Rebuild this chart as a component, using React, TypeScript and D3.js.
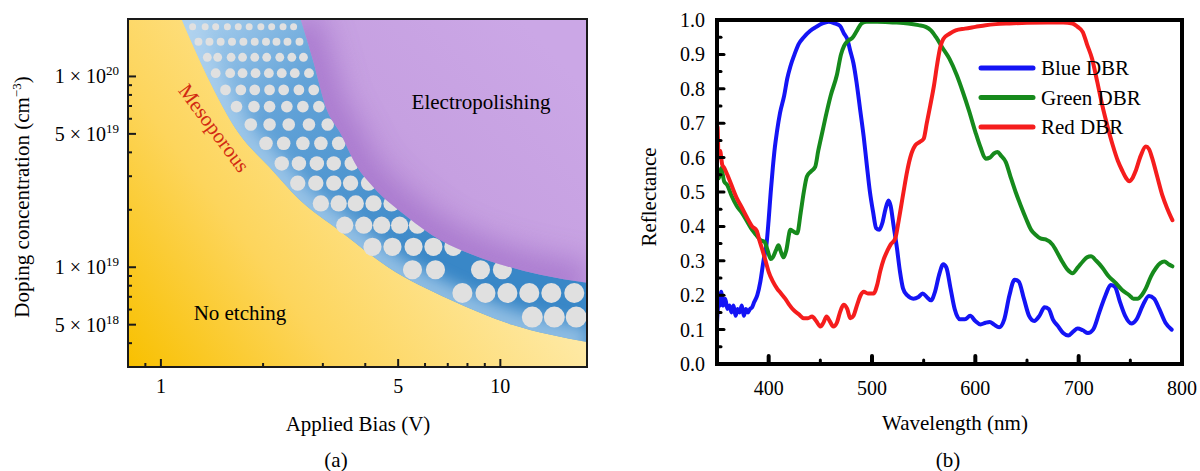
import React, { useEffect, useRef } from "react";
import * as d3 from "d3";

type Pt = [number, number];

// ---------- (a) etching regimes: doping vs applied bias ----------
const biasLabels = [1, 5, 10];
const dopingLabels = [1e20, 5e19, 1e19, 5e18];

// no etching / porous border  [bias V, doping cm^-3]
const mesoBorder: Pt[] = [
  [1.15, 2e20], [1.37, 1e20], [1.69, 5.08e19], [2.08, 3.37e19], [2.56, 2.26e19],
  [3.37, 1.55e19], [4.67, 1e19], [7.12, 6.75e18], [10.85, 4.99e18], [18, 4.06e18],
];
// porous / electropolishing border
const polishBorder: Pt[] = [
  [2.58, 2e20], [2.8, 1.23e20], [3.08, 6.71e19], [3.37, 5.08e19], [3.78, 3.37e19],
  [4.21, 2.65e19], [5.31, 1.84e19], [6.65, 1.39e19], [8.32, 1.16e19], [10.49, 1.01e19],
  [13.13, 9.13e18], [18, 8.29e18],
];

// pores drawn in the band, one row per doping level
const poreDoping = [
  1.82e20, 1.52e20, 1.26e20, 1.04e20, 8.5e19, 6.95e19, 5.6e19, 4.46e19,
  3.5e19, 2.76e19, 2.16e19, 1.66e19, 1.28e19, 9.7e18, 7.33e18, 5.48e18,
];
const poreBias = [
  [1.24, 1.35, 1.45, 1.57, 1.69, 1.82, 1.97, 2.12, 2.29, 2.46],
  [1.29, 1.39, 1.5, 1.62, 1.75, 1.89, 2.04, 2.19, 2.36, 2.56],
  [1.37, 1.47, 1.61, 1.74, 1.89, 2.05, 2.24, 2.43, 2.63],
  [1.45, 1.6, 1.74, 1.9, 2.08, 2.27, 2.48, 2.73],
  [1.55, 1.72, 1.89, 2.09, 2.3, 2.55, 2.82],
  [1.67, 1.88, 2.09, 2.35, 2.62, 2.92],
  [1.84, 2.09, 2.38, 2.73, 3.1],
  [2.04, 2.3, 2.62, 2.96, 3.34],
  [2.27, 2.55, 2.88, 3.23, 3.65],
  [2.53, 2.86, 3.23, 3.62, 4.09],
  [2.96, 3.34, 3.75, 4.23, 4.78],
  [3.48, 3.96, 4.47, 5.05, 5.7],
  [4.2, 4.81, 5.55, 6.35, 7.27],
  [5.51, 6.44, 8.74, 10.14],
  [7.73, 9.04, 10.49, 12.17, 14.13, 16.51],
  [12.42, 14.42, 16.73],
];

// ---------- (b) reflectance spectra ----------
const wlLabels = [400, 500, 600, 700, 800];
const legendNames = ["Blue DBR", "Green DBR", "Red DBR"];

const blueDBR: Pt[] = [
  [350, 0.12], [351, 0.17], [352, 0.2], [353, 0.17], [354, 0.21], [356, 0.17], [358, 0.19],
  [360, 0.16], [362, 0.17], [364, 0.15], [366, 0.17], [368, 0.14], [370, 0.16], [372, 0.15],
  [374, 0.17], [376, 0.14], [378, 0.16], [380, 0.15], [382, 0.16], [384, 0.165], [386, 0.18],
  [389, 0.2], [392, 0.24], [395, 0.3], [398, 0.35], [400, 0.42], [402, 0.5], [404, 0.57],
  [406, 0.63], [408, 0.675], [411, 0.73], [415, 0.78], [418, 0.83], [421, 0.865], [425, 0.9],
  [429, 0.93], [434, 0.95], [440, 0.968], [446, 0.98], [452, 0.99], [458, 0.995], [464, 0.99],
  [469, 0.983], [473, 0.96], [476, 0.945], [479, 0.91], [482, 0.875], [485, 0.82],
  [488.5, 0.74], [492, 0.66], [495, 0.578], [498, 0.5], [501, 0.443], [504, 0.395],
  [507, 0.39], [510, 0.41], [513, 0.45], [516, 0.475], [518, 0.46], [521, 0.4], [524, 0.34],
  [527, 0.27], [530, 0.22], [534, 0.2], [540, 0.19], [545, 0.195], [549, 0.205], [553, 0.195],
  [557, 0.185], [561, 0.21], [565, 0.26], [569, 0.29], [572, 0.28], [576, 0.22], [580, 0.16],
  [585, 0.13], [590, 0.13], [595, 0.14], [600, 0.125], [605, 0.115], [610, 0.12],
  [614, 0.122], [618, 0.115], [623, 0.107], [628, 0.13], [633, 0.2], [638, 0.245],
  [642, 0.24], [647, 0.19], [652, 0.14], [657, 0.125], [662, 0.14], [667, 0.165], [671, 0.16],
  [675, 0.13], [680, 0.11], [685, 0.09], [690, 0.083], [695, 0.095], [699, 0.103],
  [704, 0.098], [709, 0.09], [714, 0.1], [720, 0.15], [726, 0.2], [731, 0.23], [735, 0.225],
  [740, 0.18], [745, 0.14], [751, 0.118], [756, 0.13], [762, 0.17], [768, 0.198], [773, 0.19],
  [778, 0.16], [784, 0.12], [790, 0.1],
];

const greenDBR: Pt[] = [
  [350, 0.56], [352, 0.54], [354, 0.57], [357, 0.53], [360, 0.52], [364, 0.49], [369, 0.46],
  [374, 0.44], [379, 0.415], [384, 0.39], [388, 0.375], [392, 0.36], [396, 0.355], [399, 0.33],
  [402, 0.305], [404, 0.31], [407, 0.33], [409.5, 0.345], [412, 0.325], [414.5, 0.31],
  [417, 0.33], [421, 0.39], [424, 0.385], [427.6, 0.38], [431, 0.44], [434, 0.5], [437, 0.545],
  [441, 0.56], [445, 0.573], [448, 0.62], [452, 0.675], [456, 0.73], [460, 0.78], [466, 0.84],
  [470, 0.9], [473, 0.925], [477, 0.94], [481, 0.948], [485.6, 0.97], [490, 0.99],
  [495, 0.995], [505, 0.995], [520, 0.993], [535, 0.99], [545, 0.985], [552, 0.98],
  [557, 0.97], [562, 0.95], [568, 0.92], [575, 0.887], [582, 0.84], [588, 0.79], [594, 0.735],
  [600, 0.675], [605, 0.63], [610, 0.597], [614, 0.6], [618, 0.612], [621.5, 0.616],
  [625, 0.605], [629.5, 0.587], [634, 0.545], [639, 0.5], [644, 0.46], [649, 0.423],
  [654, 0.39], [658.6, 0.375], [663, 0.365], [668, 0.362], [674.7, 0.347], [680, 0.32],
  [684, 0.298], [689, 0.275], [694, 0.264], [699, 0.28], [704, 0.298], [708, 0.31],
  [712, 0.313], [717, 0.3], [723, 0.28], [729, 0.255], [736, 0.235], [742, 0.215], [749, 0.2],
  [753, 0.19], [757, 0.19], [761, 0.2], [765, 0.22], [770, 0.255], [775, 0.28], [779, 0.293],
  [783, 0.298], [787, 0.29], [790.7, 0.284],
];

const redDBR: Pt[] = [
  [350, 0.6], [350.5, 0.69], [351.5, 0.6], [353, 0.62], [355, 0.58], [357, 0.57], [360, 0.55],
  [364, 0.52], [369, 0.483], [374, 0.455], [379, 0.426], [384, 0.4], [388.5, 0.387],
  [391, 0.36], [393.5, 0.336], [397, 0.3], [400, 0.268], [404, 0.24], [408, 0.22],
  [412, 0.205], [416, 0.19], [420, 0.172], [424, 0.157], [429, 0.145], [434, 0.133],
  [438, 0.133], [442, 0.138], [446, 0.125], [450, 0.109], [453, 0.12], [456, 0.138],
  [459, 0.125], [462.6, 0.109], [466, 0.12], [469, 0.15], [472.5, 0.172], [476, 0.16],
  [479, 0.133], [482, 0.14], [485.6, 0.172], [489, 0.2], [492, 0.21], [496, 0.205],
  [501.6, 0.205], [505, 0.23], [508, 0.27], [511.3, 0.304], [515, 0.33], [518, 0.347],
  [522.5, 0.365], [526, 0.42], [530.5, 0.5], [534, 0.56], [537, 0.6], [542, 0.636],
  [546, 0.645], [550, 0.655], [553, 0.7], [556.4, 0.752], [560, 0.81], [563, 0.87],
  [566, 0.92], [569, 0.945], [575, 0.96], [581, 0.97], [590, 0.975], [600, 0.98],
  [610, 0.985], [620, 0.988], [633, 0.99], [650, 0.992], [670, 0.993], [685, 0.993],
  [694, 0.99], [699, 0.98], [704, 0.965], [708, 0.93], [713, 0.887], [718, 0.82], [723, 0.75],
  [728, 0.69], [733, 0.636], [738, 0.59], [742.5, 0.56], [746, 0.54], [749, 0.531],
  [752, 0.54], [755, 0.56], [760, 0.605], [765, 0.632], [768, 0.625], [771, 0.6], [776, 0.545],
  [781, 0.49], [786, 0.45], [790.7, 0.418],
];

const FONT = "Liberation Serif, Times New Roman, DejaVu Serif, serif";

function App() {
  const ref = useRef<SVGSVGElement>(null);

  useEffect(() => {
    const svg = d3.select(ref.current);
    svg.selectAll("*").remove();
    svg.style("font-family", FONT);
    const defs = svg.append("defs");

    // ================= panel (a) =================
    const L = 128, T = 19, R = 587, B = 367;
    const x = d3.scaleLog().domain([0.8, 18]).range([L, R]);
    const y = d3.scaleLog().domain([3e18, 2e20]).range([B, T]);

    const border = d3
      .line<Pt>()
      .x((d) => x(d[0]))
      .y((d) => y(d[1]))
      .curve(d3.curveMonotoneX);
    // region up and right of a border
    const above = (pts: Pt[]) =>
      `${border(pts)}L${R + 10},${y(pts[pts.length - 1][1])}L${R + 10},${T - 10}L${x(pts[0][0])},${T - 10}Z`;

    const addLinear = (id: string, x1: number, y1: number, x2: number, y2: number, stops: [number, string][]) => {
      const g = defs
        .append("linearGradient")
        .attr("id", id)
        .attr("gradientUnits", "userSpaceOnUse")
        .attr("x1", x1).attr("y1", y1).attr("x2", x2).attr("y2", y2);
      stops.forEach(([o, c]) => g.append("stop").attr("offset", o).attr("stop-color", c));
    };
    addLinear("yellowFill", L, B, 430, 140, [[0, "#f8c000"], [0.45, "#fdd55c"], [1, "#fee9a4"]]);
    addLinear("blueFill", 190, 30, 430, 260, [[0, "#a9cfee"], [0.35, "#63a3d8"], [1, "#3987c7"]]);
    addLinear("purpleFill", 330, 280, 560, 60, [[0, "#b88bd5"], [0.5, "#c6a0e1"], [1, "#cba7e6"]]);

    const blur = (id: string, s: number) =>
      defs
        .append("filter")
        .attr("id", id)
        .attr("filterUnits", "userSpaceOnUse")
        .attr("x", 0).attr("y", 0).attr("width", 1200).attr("height", 471)
        .append("feGaussianBlur")
        .attr("stdDeviation", s);
    blur("soft", 8);
    blur("softer", 14);

    defs.append("clipPath").attr("id", "plotA").append("rect")
      .attr("x", L).attr("y", T).attr("width", R - L).attr("height", B - T);
    defs.append("clipPath").attr("id", "bandClip").append("path").attr("d", above(mesoBorder));
    defs.append("clipPath").attr("id", "purpleClip").append("path").attr("d", above(polishBorder));

    const gA = svg.append("g").attr("clip-path", "url(#plotA)");
    gA.append("rect")
      .attr("x", L).attr("y", T).attr("width", R - L).attr("height", B - T)
      .attr("fill", "url(#yellowFill)");

    gA.append("path").attr("d", above(mesoBorder)).attr("fill", "url(#blueFill)");
    gA.append("g").attr("clip-path", "url(#bandClip)")
      .append("path")
      .attr("d", border(mesoBorder))
      .attr("fill", "none")
      .attr("stroke", "#b4d4ef")
      .attr("stroke-width", 30)
      .attr("opacity", 0.7)
      .attr("filter", "url(#soft)");

    const rScale = d3.scaleLinear().domain([0, poreDoping.length - 1]).range([3.5, 10.5]);
    poreBias.forEach((row, i) => {
      gA.append("g")
        .selectAll("circle")
        .data(row)
        .join("circle")
        .attr("cx", (d) => x(d))
        .attr("cy", y(poreDoping[i]))
        .attr("r", rScale(i))
        .attr("fill", "#e0e0e0");
    });

    gA.append("path").attr("d", above(polishBorder)).attr("fill", "url(#purpleFill)");
    gA.append("g").attr("clip-path", "url(#purpleClip)")
      .append("path")
      .attr("d", border(polishBorder))
      .attr("fill", "none")
      .attr("stroke", "#a06ec9")
      .attr("stroke-width", 40)
      .attr("opacity", 0.7)
      .attr("filter", "url(#softer)");

    // region names
    gA.append("text")
      .attr("transform", "translate(214,128) rotate(53.5)")
      .attr("text-anchor", "middle")
      .attr("dominant-baseline", "central")
      .attr("font-size", 21)
      .attr("fill", "#d22b12")
      .text("Mesoporous");
    gA.append("text").attr("x", 240).attr("y", 320).attr("text-anchor", "middle")
      .attr("font-size", 21).text("No etching");
    gA.append("text").attr("x", 481).attr("y", 109).attr("text-anchor", "middle")
      .attr("font-size", 21).text("Electropolishing");

    // ticks (inward)
    const tA = svg.append("g").attr("stroke", "#1a1a1a").attr("stroke-width", 2);
    x.ticks().forEach((v) => {
      const major = biasLabels.includes(v);
      tA.append("line").attr("x1", x(v)).attr("x2", x(v)).attr("y1", B).attr("y2", B - (major ? 8 : 4));
    });
    y.ticks().forEach((v) => {
      const major = dopingLabels.some((m) => Math.abs(m - v) / m < 1e-6);
      tA.append("line").attr("y1", y(v)).attr("y2", y(v)).attr("x1", L).attr("x2", L + (major ? 8 : 4));
    });
    svg.append("rect")
      .attr("x", L).attr("y", T).attr("width", R - L).attr("height", B - T)
      .attr("fill", "none").attr("stroke", "#1a1a1a").attr("stroke-width", 2);

    biasLabels.forEach((v) => {
      svg.append("text").attr("x", x(v)).attr("y", 393).attr("text-anchor", "middle")
        .attr("font-size", 20).text(v);
    });
    dopingLabels.forEach((v) => {
      const e = Math.floor(Math.log10(v) + 1e-9);
      const m = Math.round(v / Math.pow(10, e));
      const t = svg.append("text").attr("x", 119).attr("y", y(v) + 7)
        .attr("text-anchor", "end").attr("font-size", 20);
      t.append("tspan").text(`${m} × 10`);
      t.append("tspan").attr("dy", -8).attr("font-size", 13).text(e);
    });

    svg.append("text").attr("x", 358).attr("y", 431).attr("text-anchor", "middle")
      .attr("font-size", 21).text("Applied Bias (V)");
    const yt = svg.append("text").attr("transform", "translate(29,197) rotate(-90)")
      .attr("text-anchor", "middle").attr("font-size", 21);
    yt.append("tspan").text("Doping concentration (cm");
    yt.append("tspan").attr("dy", -8).attr("font-size", 13).text("−3");
    yt.append("tspan").attr("dy", 8).text(")");
    svg.append("text").attr("x", 336).attr("y", 467).attr("text-anchor", "middle")
      .attr("font-size", 21).text("(a)");

    // ================= panel (b) =================
    const L2 = 717, T2 = 20, R2 = 1182, B2 = 364;
    const bx = d3.scaleLinear().domain([350, 800]).range([L2, R2]);
    const by = d3.scaleLinear().domain([0, 1]).range([B2, T2]);

    const spectrum = d3
      .line<Pt>()
      .x((d) => bx(d[0]))
      .y((d) => by(d[1]))
      .curve(d3.curveMonotoneX);

    const series: [Pt[], string][] = [
      [blueDBR, "#1414f5"],
      [greenDBR, "#168a1c"],
      [redDBR, "#f51d1d"],
    ];
    series.forEach(([data, color]) => {
      svg.append("path")
        .datum(data)
        .attr("d", spectrum)
        .attr("fill", "none")
        .attr("stroke", color)
        .attr("stroke-width", 4)
        .attr("stroke-linejoin", "round")
        .attr("stroke-linecap", "round");
    });

    // legend
    legendNames.forEach((name, i) => {
      const ly = 68 + i * 29.5;
      svg.append("line").attr("x1", 981).attr("x2", 1033).attr("y1", ly).attr("y2", ly)
        .attr("stroke", series[i][1]).attr("stroke-width", 5).attr("stroke-linecap", "round");
      svg.append("text").attr("x", 1041).attr("y", ly + 7).attr("font-size", 21).text(name);
    });

    const tB = svg.append("g").attr("stroke", "#000").attr("stroke-linecap", "round");
    by.ticks(20).forEach((v) => {
      const major = Math.round(v * 100) % 10 === 0;
      tB.append("line").attr("y1", by(v)).attr("y2", by(v)).attr("x1", L2)
        .attr("x2", L2 + (major ? 7 : 4)).attr("stroke-width", 3);
    });
    bx.ticks(9).forEach((v) => {
      const major = v % 100 === 0;
      tB.append("line").attr("x1", bx(v)).attr("x2", bx(v)).attr("y1", B2)
        .attr("y2", B2 - (major ? 8 : 4)).attr("stroke-width", major ? 4 : 3);
    });
    svg.append("rect")
      .attr("x", L2).attr("y", T2).attr("width", R2 - L2).attr("height", B2 - T2)
      .attr("fill", "none").attr("stroke", "#000").attr("stroke-width", 4);

    d3.range(0, 11).forEach((i) => {
      const v = i / 10;
      svg.append("text").attr("x", 705).attr("y", by(v) + 7).attr("text-anchor", "end")
        .attr("font-size", 20).text(d3.format(".1f")(v));
    });
    wlLabels.forEach((v) => {
      svg.append("text").attr("x", bx(v)).attr("y", 395).attr("text-anchor", "middle")
        .attr("font-size", 20).text(v);
    });
    svg.append("text").attr("x", 955).attr("y", 430).attr("text-anchor", "middle")
      .attr("font-size", 21).text("Wavelength (nm)");
    svg.append("text").attr("transform", "translate(656,197) rotate(-90)")
      .attr("text-anchor", "middle").attr("font-size", 21).text("Reflectance");
    svg.append("text").attr("x", 948).attr("y", 467).attr("text-anchor", "middle")
      .attr("font-size", 21).text("(b)");
  }, []);

  return (
    <svg
      ref={ref}
      width={1200}
      height={471}
      style={{ position: "absolute", left: 0, top: 0, background: "#fff" }}
    />
  );
}

export default App;
